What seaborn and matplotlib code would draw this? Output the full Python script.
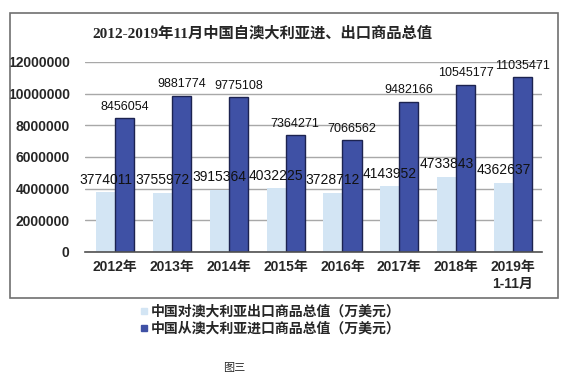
import numpy as np
import pandas as pd
import matplotlib
matplotlib.use("Agg")
import matplotlib.pyplot as plt
import seaborn as sns
from matplotlib.patches import Rectangle
from matplotlib.lines import Line2D

sns.set_style('white')
plt.rcParams['font.family'] = ['Liberation Sans', 'Noto Sans CJK SC', 'DejaVu Sans']

# data
years = ['2012年', '2013年', '2014年', '2015年', '2016年', '2017年', '2018年', '2019年\n1-11月']
exports = [3774011, 3755972, 3915364, 4032225, 3728712, 4143952, 4733843, 4362637]
imports = [8456054, 9881774, 9775108, 7364271, 7066562, 9482166, 10545177, 11035471]
series = ['中国对澳大利亚出口商品总值（万美元）', '中国从澳大利亚进口商品总值（万美元）']

df = pd.DataFrame({
    'year': years * 2,
    'value': exports + imports,
    'series': [series[0]] * len(years) + [series[1]] * len(years),
})

light = '#d3e5f4'
dark = '#3f51a5'

fig = plt.figure(figsize=(5.68, 3.85), dpi=100)
fig.patch.set_facecolor('white')

# outer frame
fig.add_artist(Rectangle((0.0176, 0.226), 0.965, 0.740, transform=fig.transFigure,
                         fill=False, edgecolor='#707070', linewidth=1.2))

ax = fig.add_axes([0.1496, 0.3455, 0.8046, 0.4935])
sns.barplot(data=df, x='year', y='value', hue='series', palette=[light, dark],
            width=0.67, ax=ax, legend=False, saturation=1)

# dark bar edges
for bar in ax.containers[1]:
    bar.set_edgecolor('#1c2350')
    bar.set_linewidth(1.0)
for bar in ax.containers[0]:
    bar.set_edgecolor('none')

ax.set_ylim(0, 12000000)
ax.set_xlim(-0.53, 7.51)
ax.set_yticks(np.arange(0, 12000001, 2000000))
ax.set_yticklabels([str(v) for v in range(0, 12000001, 2000000)])
ax.yaxis.grid(True, color='#a8a8a8', linewidth=1.0)
ax.set_axisbelow(True)
for s in ['top', 'right', 'left']:
    ax.spines[s].set_visible(False)
ax.spines['bottom'].set_color('#505050')
ax.spines['bottom'].set_linewidth(1.2)
ax.tick_params(axis='both', length=0)
ax.tick_params(axis='y', pad=11, labelsize=10)
ax.tick_params(axis='x', pad=6, labelsize=10)
for t in ax.get_xticklabels() + ax.get_yticklabels():
    t.set_fontweight('bold')
ax.set_xlabel('')
ax.set_ylabel('')

# value labels
for cont, fs in zip(ax.containers, [10, 9]):
    for bar in cont:
        h = bar.get_height()
        ax.annotate(f'{int(round(h))}', (bar.get_x() + bar.get_width() / 2, h),
                    xytext=(0, 4), textcoords='offset points', ha='center', va='bottom',
                    fontsize=fs, color='#111111')

fig.text(0.462, 0.914, '2012-2019年11月中国自澳大利亚进、出口商品总值', ha='center', va='center',
         fontsize=11, fontweight='bold', family=['Liberation Serif', 'Noto Sans CJK SC'])

handles = [Line2D([], [], marker='s', linestyle='none', markersize=4, color=light),
           Line2D([], [], marker='s', linestyle='none', markersize=4, color=dark)]
leg = fig.legend(handles, series, loc='center', bbox_to_anchor=(0.475, 0.168), frameon=False,
                 fontsize=10, handletextpad=0.1, labelspacing=0.25, handlelength=0.8)
for t in leg.get_texts():
    t.set_fontweight('bold')

fig.text(0.413, 0.045, '图三', ha='center', va='center', fontsize=8)

fig.savefig('out.png', dpi=100)
